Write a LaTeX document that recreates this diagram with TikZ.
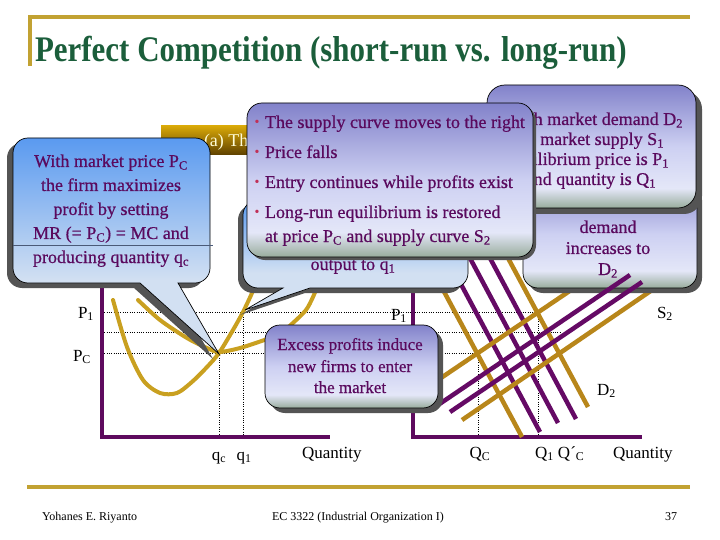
\documentclass[tikz,border=0pt]{standalone}
\usepackage{fontspec}
\usepackage{graphicx}
\setmainfont{Liberation Serif}
\newfontfamily\boxfont[FakeBold=0.6]{Liberation Serif}
\definecolor{titlegreen}{HTML}{1B5E3B}
\definecolor{goldline}{HTML}{C2A232}
\definecolor{txt}{HTML}{5A0A5E}
\definecolor{axpurple}{HTML}{5E0A5E}
\definecolor{curvegold}{HTML}{C9A020}
\definecolor{linegold}{HTML}{B8861A}
\definecolor{linepurple}{HTML}{650A65}
\definecolor{shadowgray}{HTML}{545454}
\definecolor{fogT}{HTML}{8282CA}
\definecolor{fogM}{HTML}{CDD0F2}
\definecolor{fogL}{HTML}{E4E7F8}
\definecolor{fogB}{HTML}{98AC9C}
\definecolor{skyT}{HTML}{5A9AF0}
\definecolor{skyL}{HTML}{D2E0F2}
\definecolor{barT}{HTML}{D8A808}
\definecolor{barB}{HTML}{5E4000}
\definecolor{bulletred}{HTML}{C03058}
\definecolor{boxline}{HTML}{4A5A78}
\pgfdeclareverticalshading{fog}{100bp}{color(0bp)=(fogB); color(25bp)=(fogB); color(33bp)=(fogL); color(50bp)=(fogM); color(75bp)=(fogT); color(100bp)=(fogT)}
\pgfdeclareverticalshading{sky}{100bp}{color(0bp)=(skyL); color(25bp)=(skyL); color(42bp)=(skyL); color(75bp)=(skyT); color(100bp)=(skyT)}
\newcommand\roundbox[6]{(#1+#5,#2) -- (#3-#5,#2) arc[start angle=-90,end angle=0,radius=#5] -- (#3,#4-#5) arc[start angle=0,end angle=90,radius=#5] #6 -- (#1+#5,#4) arc[start angle=90,end angle=180,radius=#5] -- (#1,#2+#5) arc[start angle=180,end angle=270,radius=#5] -- cycle}
\tikzset{
  curve/.style={curvegold, line width=4pt, line cap=round},
  gline/.style={linegold, line width=4.5pt},
  pline/.style={linepurple, line width=4.5pt},
  dots/.style={black, line width=0.7pt, dash pattern=on 0.7pt off 1.6pt},
  axisline/.style={axpurple, line width=4pt, line join=miter},
  boxtext/.style={text=txt, font=\boxfont\fontsize{18}{20}\selectfont},
  smalltext/.style={text=txt, font=\boxfont\fontsize{17}{19}\selectfont},
  lbl/.style={text=black, font=\fontsize{17}{19}\selectfont},
  bul/.style={text=bulletred, font=\fontsize{14}{14}\selectfont},
  foot/.style={text=black, font=\fontsize{12}{14}\selectfont},
  shadowfill/.style={fill=shadowgray},
  fogbox/.style={shading=fog, draw=black, line width=0.7pt},
  skybox/.style={shading=sky, draw=black, line width=0.7pt}
}
\begin{document}
\begin{tikzpicture}[x=1pt,y=-1pt, every node/.style={inner sep=0pt, outer sep=0pt}]
\useasboundingbox (0,0) rectangle (720,540);
\fill[white] (0,0) rectangle (720,540);
% frame
\coordinate (fl) at (30,17);
\coordinate (fr) at (690,17);
\coordinate (fb) at (30,66);
\draw[goldline, line width=4pt] (fb) -- (fl) -- (fr);
\coordinate (ftl) at (27,487);
\coordinate (ftr) at (690,487);
\draw[goldline, line width=4pt] (ftl) -- (ftr);
\node[anchor=base west, text=titlegreen, font=\fontsize{36}{40}\selectfont\bfseries] (title) at (35,62) {\scalebox{0.86}[1]{Perfect Competition (short-run vs. long-run)}};
\node[foot, anchor=base west] (author) at (42,520) {Yohanes E. Riyanto};
\node[foot, anchor=base west] (course) at (272,520) {EC 3322 (Industrial Organization I)};
\node[foot, anchor=base east] (page) at (677,520) {37};
% dotted guides
\draw[dots] (102,312) -- (538,312);
\draw[dots] (102,332) -- (560,332);
\draw[dots] (102,353) -- (478,353);
\draw[dots] (219,353) -- (219,437);
\draw[dots] (243,312) -- (243,437);
\draw[dots] (478,353) -- (478,437);
\draw[dots] (538,312) -- (538,437);
% axes
\coordinate (o1) at (102,437);
\draw[axisline] (102,270) -- (o1) -- (330,437);
\coordinate (o2) at (413,437);
\draw[axisline] (413,250) -- (o2) -- (642,437);
% firm curves
\draw[curve] plot[smooth] coordinates {(113,300) (127,347) (143,380) (160,393) (177,393) (193,381) (207,367) (219,353) (233,330) (243,312) (252,293) (258,278)};
\draw[curve] plot[smooth] coordinates {(138,300) (160,320) (187,338) (207,348) (219,352) (240,348) (267,339) (282,332) (294,322) (306,310) (313,297) (320,280)};
% market lines
\draw[gline] (419,245) -- (522,437);
\draw[pline] (440,245) -- (540,432);
\draw[pline] (463,245) -- (558,423);
\draw[pline] (483,245) -- (576,419);
\draw[gline] (501,245) -- (588,407);
\draw[gline] (435,382) -- (580,284);
\draw[gline] (462,420) -- (655,288);
% title bar
\shade[top color=barT, bottom color=barB] (161,126) rectangle (420,155);
\node[anchor=base west, text=yellow!15, font=\fontsize{18}{20}\selectfont] (firmtitle) at (204,147) {(a) Th};
% left callout
\fill[shadowfill, shift={(-6,5)}] \roundbox{13}{138}{210}{283}{15}{-- (178,283) -- (219,354) -- (140,283)};
\shadedraw[skybox] \roundbox{13}{138}{210}{283}{15}{-- (178,283) -- (219,354) -- (140,283)};
\node[boxtext, anchor=base] (l1) at (111,167) {With market price P\textsubscript{C}};
\node[boxtext, anchor=base] (l2) at (111,191) {the firm maximizes};
\node[boxtext, anchor=base] (l3) at (111,215) {profit by setting};
\node[boxtext, anchor=base] (l4) at (111,239) {MR (= P\textsubscript{C}) = MC and};
\node[boxtext, anchor=base] (l5) at (111,263) {producing quantity q\textsubscript{c}};
\draw[boxline, line width=0.6pt] (13,245) -- (213,245);
% output callout
\fill[shadowfill, shift={(-5,5)}] \roundbox{243}{200}{468}{288}{15}{-- (310,288) -- (245,310) -- (283,288)};
\shadedraw[skybox] \roundbox{243}{200}{468}{288}{15}{-- (310,288) -- (245,310) -- (283,288)};
\node[boxtext, anchor=base] (o1t) at (353,270) {output to q\textsubscript{1}};
% demand box
\fill[shadowfill, shift={(5,5)}] \roundbox{523}{180}{697}{288}{15}{};
\shadedraw[fogbox] \roundbox{523}{180}{697}{288}{15}{};
\node[boxtext, anchor=base] (d1) at (608,233) {demand};
\node[boxtext, anchor=base] (d2) at (608,254) {increases to};
\node[boxtext, anchor=base] (d3) at (608,275) {D\textsubscript{2}};
% purple supply lines
\draw[pline] (438,405) -- (630,275);
\draw[pline] (450,412) -- (642,282);
% top-right box
\fill[shadowfill, shift={(6,6)}] \roundbox{487}{85}{696}{208}{18}{};
\shadedraw[fogbox] \roundbox{487}{85}{696}{208}{18}{};
\node[boxtext, anchor=base east] (t1) at (683,125) {h market demand D\textsubscript{2}};
\node[boxtext, anchor=base east] (t2) at (664,145) {d market supply S\textsubscript{1}};
\node[boxtext, anchor=base east] (t3) at (669,165) {ilibrium price is P\textsubscript{1}};
\node[boxtext, anchor=base east] (t4) at (656,185) {nd quantity is Q\textsubscript{1}};
% supply box
\fill[shadowfill, shift={(3,3)}] \roundbox{247}{103}{533}{257}{15}{};
\shadedraw[fogbox] \roundbox{247}{103}{533}{257}{15}{};
\node[bul, anchor=base] (b1) at (257,127) {•};
\node[bul, anchor=base] (b2) at (257,157) {•};
\node[bul, anchor=base] (b3) at (257,187) {•};
\node[bul, anchor=base] (b4) at (257,217) {•};
\node[boxtext, anchor=base west] (s1) at (265,128) {The supply curve moves to the right};
\node[boxtext, anchor=base west] (s2) at (265,158) {Price falls};
\node[boxtext, anchor=base west] (s3) at (265,188) {Entry continues while profits exist};
\node[boxtext, anchor=base west] (s4) at (265,218) {Long-run equilibrium is restored};
\node[boxtext, anchor=base west] (s5) at (265,242) {at price P\textsubscript{C} and supply curve S\textsubscript{2}};
% excess box
\fill[shadowfill, shift={(5,5)}] \roundbox{265}{325}{438}{408}{15}{};
\shadedraw[fogbox] \roundbox{265}{325}{438}{408}{15}{};
\node[smalltext, anchor=base] (e1) at (350,350) {Excess profits induce};
\node[smalltext, anchor=base] (e2) at (350,372) {new firms to enter};
\node[smalltext, anchor=base] (e3) at (350,393) {the market};
% axis labels
\node[lbl, anchor=base west] (p1a) at (78,318) {P\textsubscript{1}};
\node[lbl, anchor=base west] (pca) at (73,361) {P\textsubscript{C}};
\node[lbl, anchor=base] (qc) at (219,460) {q\textsubscript{c}};
\node[lbl, anchor=base] (q1) at (244,460) {q\textsubscript{1}};
\node[lbl, anchor=base west] (qty1) at (302,458) {Quantity};
\node[lbl, anchor=base west] (p1b) at (391,320) {P\textsubscript{1}};
\node[lbl, anchor=base] (QC) at (480,458) {Q\textsubscript{C}};
\node[lbl, anchor=base west] (Q1) at (535,458) {Q\textsubscript{1} Q´\textsubscript{C}};
\node[lbl, anchor=base west] (qty2) at (613,458) {Quantity};
\node[lbl, anchor=base west] (S2) at (657,318) {S\textsubscript{2}};
\node[lbl, anchor=base west] (D2) at (597,395) {D\textsubscript{2}};
\end{tikzpicture}
\end{document}
